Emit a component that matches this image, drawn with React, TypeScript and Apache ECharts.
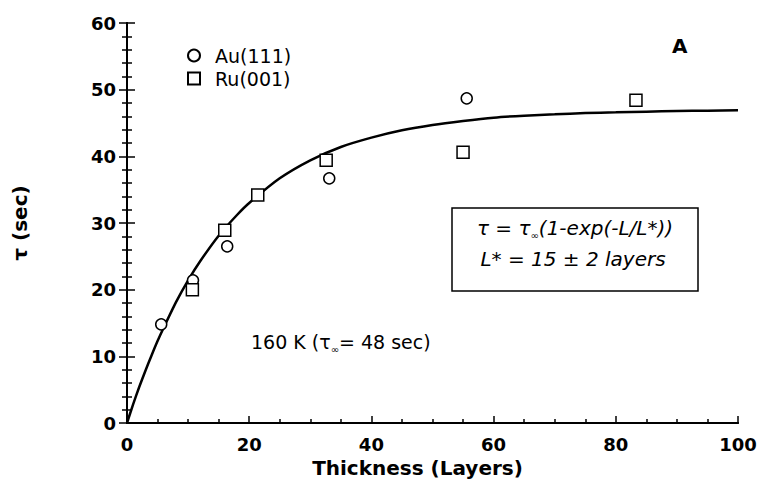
import React, { useEffect, useRef } from "react";
import * as echarts from "echarts";

// Fitted curve
const curveL = [0, 1, 2, 3, 4, 5, 6, 8, 10, 12, 15, 18, 20, 25, 30, 35, 40, 45, 50, 55, 60, 65, 70, 75, 80, 85, 90, 95, 100];
const curveTau = [0, 2.8, 5.4, 7.8, 10.1, 12.3, 14.3, 18.1, 21.4, 24.3, 28.1, 31.2, 33.0, 36.7, 39.4, 41.4, 42.8, 43.9, 44.7, 45.3, 45.8, 46.1, 46.3, 46.5, 46.6, 46.7, 46.8, 46.85, 46.9];

// Au(111) points
const auL = [5.6, 10.8, 16.4, 33.1, 55.6];
const auTau = [14.8, 21.4, 26.5, 36.7, 48.7];

// Ru(001) points
const ruL = [10.7, 16.0, 21.4, 32.6, 55.0, 83.3];
const ruTau = [20.0, 28.9, 34.2, 39.4, 40.6, 48.4];

const xTicks = { min: 0, max: 100, interval: 20 };
const yTicks = { min: 0, max: 60, interval: 10 };

const seriesNames = ["Au(111)", "Ru(001)"];

const App: React.FC = () => {
  const ref = useRef<HTMLDivElement>(null);

  useEffect(() => {
    if (!ref.current) return;
    const chart = echarts.init(ref.current, undefined, { renderer: "svg" });
    const tickFont = {
      fontFamily: "DejaVu Sans",
      fontWeight: "bold" as const,
      fontSize: 18,
      color: "#000",
    };
    const axisLine = { show: true, lineStyle: { color: "#000", width: 2 } };
    const tickStyle = { color: "#000", width: 1.5 };
    const markerStyle = { color: "#fff", borderColor: "#000", borderWidth: 1.5, opacity: 1 };
    chart.setOption({
      animation: false,
      backgroundColor: "#fff",
      grid: { left: 127, right: 23, top: 23, bottom: 61, containLabel: false },
      legend: {
        orient: "vertical",
        left: 182,
        top: 41,
        itemWidth: 12,
        itemHeight: 12,
        itemGap: 4,
        data: seriesNames,
        textStyle: {
          fontFamily: "DejaVu Sans",
          fontSize: 19,
          color: "#000",
          padding: [0, 0, 0, 10],
        },
      },
      xAxis: [
        {
          type: "value",
          position: "bottom",
          min: xTicks.min,
          max: xTicks.max,
          interval: xTicks.interval,
          axisLine,
          axisTick: { show: true, inside: true, length: 7, lineStyle: tickStyle },
          minorTick: { show: true, splitNumber: 4, length: 4, lineStyle: tickStyle },
          splitLine: { show: false },
          axisLabel: { ...tickFont, margin: 12 },
          name: "Thickness (Layers)",
          nameLocation: "middle",
          nameGap: 33,
          nameTextStyle: {
            fontFamily: "DejaVu Sans",
            fontWeight: "bold",
            fontSize: 20,
            color: "#000",
            padding: [0, 30, 0, 0],
          },
        },
        {
          type: "value",
          position: "top",
          min: xTicks.min,
          max: xTicks.max,
          interval: xTicks.interval,
          axisLine,
          axisTick: { show: false },
          axisLabel: { show: false },
          splitLine: { show: false },
        },
      ],
      yAxis: [
        {
          type: "value",
          position: "left",
          min: yTicks.min,
          max: yTicks.max,
          interval: yTicks.interval,
          axisLine,
          axisTick: { show: true, inside: true, length: 8, lineStyle: tickStyle },
          minorTick: { show: true, splitNumber: 5, length: 5, lineStyle: tickStyle },
          splitLine: { show: false },
          axisLabel: { ...tickFont, margin: 11 },
          name: "τ (sec)",
          nameLocation: "middle",
          nameRotate: 90,
          nameGap: 97,
          nameTextStyle: {
            fontFamily: "DejaVu Sans",
            fontWeight: "bold",
            fontSize: 20,
            color: "#000",
          },
        },
        {
          type: "value",
          position: "right",
          min: yTicks.min,
          max: yTicks.max,
          interval: yTicks.interval,
          axisLine,
          axisTick: { show: true, inside: true, length: 8, lineStyle: tickStyle },
          minorTick: { show: true, splitNumber: 5, length: 5, lineStyle: tickStyle },
          axisLabel: { show: false },
          splitLine: { show: false },
        },
      ],
      series: [
        {
          name: "fit",
          type: "line",
          data: curveL.map((l, i) => [l, curveTau[i]]),
          smooth: 0.2,
          showSymbol: false,
          symbol: "none",
          lineStyle: { color: "#000", width: 2.5 },
          z: 2,
        },
        {
          name: seriesNames[0],
          type: "scatter",
          data: auL.map((l, i) => [l, auTau[i]]),
          symbol: "circle",
          symbolSize: 11,
          itemStyle: markerStyle,
          z: 3,
        },
        {
          name: seriesNames[1],
          type: "scatter",
          data: ruL.map((l, i) => [l, ruTau[i]]),
          symbol: "rect",
          symbolSize: 12,
          itemStyle: markerStyle,
          z: 3,
        },
      ],
      graphic: [
        {
          type: "text",
          left: 672,
          top: 36,
          style: {
            text: "A",
            fontFamily: "DejaVu Sans",
            fontWeight: "bold",
            fontSize: 20,
            fill: "#000",
          },
        },
        {
          type: "rect",
          shape: { x: 452, y: 208, width: 246, height: 83 },
          style: { fill: "#fff", stroke: "#000", lineWidth: 1.5 },
          z: 10,
        },
        {
          type: "text",
          x: 575,
          y: 228,
          z: 11,
          style: {
            text: "{i|τ = τ}{s|∞}{i|(1-exp(-L/L*))}",
            align: "center",
            verticalAlign: "middle",
            rich: {
              i: {
                fontFamily: "DejaVu Sans",
                fontStyle: "italic",
                fontSize: 20,
                lineHeight: 24,
                fill: "#000",
              },
              s: {
                fontFamily: "DejaVu Sans",
                fontSize: 10,
                lineHeight: 10,
                verticalAlign: "bottom",
                fill: "#000",
              },
            },
          },
        },
        {
          type: "text",
          x: 573,
          y: 259,
          z: 11,
          style: {
            text: "L* = 15 ± 2 layers",
            align: "center",
            verticalAlign: "middle",
            fontFamily: "DejaVu Sans",
            fontStyle: "italic",
            fontSize: 20,
            fill: "#000",
          },
        },
        {
          type: "text",
          x: 251,
          y: 342,
          z: 11,
          style: {
            text: "{n|160 K (τ}{s|∞}{n|= 48 sec)}",
            align: "left",
            verticalAlign: "middle",
            rich: {
              n: {
                fontFamily: "DejaVu Sans",
                fontSize: 19,
                lineHeight: 24,
                fill: "#000",
              },
              s: {
                fontFamily: "DejaVu Sans",
                fontSize: 10,
                lineHeight: 10,
                verticalAlign: "bottom",
                fill: "#000",
              },
            },
          },
        },
      ],
    });
    return () => chart.dispose();
  }, []);

  return (
    <div
      ref={ref}
      style={{ position: "fixed", left: 0, top: 0, width: 761, height: 484 }}
    />
  );
};

export default App;
